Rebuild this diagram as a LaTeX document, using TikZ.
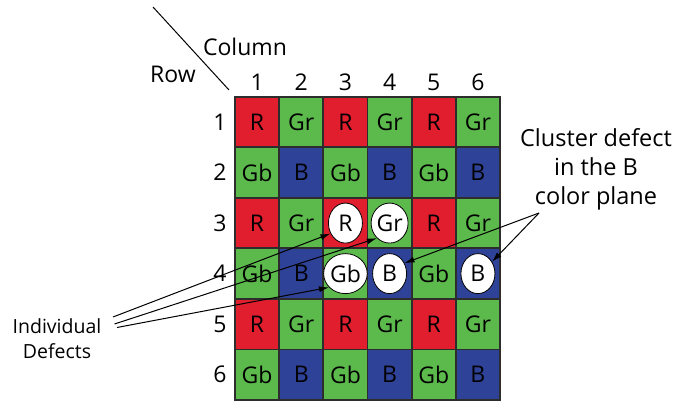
\documentclass[tikz,border=0pt]{standalone}
\usepackage{fontspec}
\setmainfont{Open Sans}
\usetikzlibrary{shapes.geometric,arrows.meta}
\definecolor{rd}{RGB}{224,30,46}
\definecolor{gn}{RGB}{92,185,76}
\definecolor{bl}{RGB}{46,66,152}
\definecolor{bd}{RGB}{45,45,45}
\tikzset{
  cell/.style={draw=bd,line width=1.8pt,minimum width=44.17pt,minimum height=50.55pt,inner sep=0pt,font=\fontsize{23}{27}\selectfont},
  defect/.style={ellipse,draw=black,line width=0.8pt,fill=white,minimum width=34pt,minimum height=40pt,inner sep=0pt,font=\fontsize{23}{27}\selectfont},
  lab/.style={inner sep=0pt,font=\fontsize{23}{27}\selectfont},
  conn/.style={line width=1pt,-{Latex[length=10pt,width=6pt]}}
}
\begin{document}
\begin{tikzpicture}[x=1pt,y=-1pt]
\useasboundingbox (0,0) rectangle (677,403);
% grid
\foreach \r in {1,3,5}
  \foreach \c/\f/\t in {1/rd/R,2/gn/Gr,3/rd/R,4/gn/Gr,5/rd/R,6/gn/Gr}
    \node[cell,fill=\f] (c\r\c) at ({235+(\c-0.5)*44.17},{96.7+(\r-0.5)*50.55}) {\t};
\foreach \r in {2,4,6}
  \foreach \c/\f/\t in {1/gn/Gb,2/bl/B,3/gn/Gb,4/bl/B,5/gn/Gb,6/bl/B}
    \node[cell,fill=\f] (c\r\c) at ({235+(\c-0.5)*44.17},{96.7+(\r-0.5)*50.55}) {\t};
% labels
\foreach \c in {1,...,6}
  \node[lab] (col\c) at ({235+(\c-0.5)*44.17},82) {\c};
\foreach \r in {1,...,6}
  \node[lab] (row\r) at (220,{96.7+(\r-0.5)*50.55}) {\r};
\node[lab] (column) at (245,47) {Column};
\node[lab] (rowlab) at (173,74) {Row};
\coordinate (dg1) at (153,7);
\coordinate (dg2) at (229,90);
\draw[line width=1pt] (dg1) -- (dg2);
% defects
\node[defect] (d33) at (c33) {R};
\node[defect] (d34) at (c34) {Gr};
\node[defect] (d43) at (c43) {Gb};
\node[defect] (d44) at (c44) {B};
\node[defect] (d46) at (c46) {B};
% annotations
\node[align=center,inner sep=0pt,font=\fontsize{19.5}{25}\selectfont] (ind) at (57,339) {Individual\\Defects};
\node[align=center,inner sep=0pt,font=\fontsize{23.5}{29}\selectfont] (clu) at (596,169) {Cluster defect\\in the B\\color plane};
\coordinate (a1) at (113,317);
\coordinate (a2) at (114.5,324);
\coordinate (a3) at (117,327.5);
\coordinate (b0) at (539,213);
\draw[conn] (a1) -- (d33.215);
\draw[conn] (a2) -- (d34.230);
\draw[conn] (a3) -- (d43.220);
\draw[conn] (b0) -- (d44.35);
\draw[conn] (b0) -- (d46.40);
\end{tikzpicture}
\end{document}
